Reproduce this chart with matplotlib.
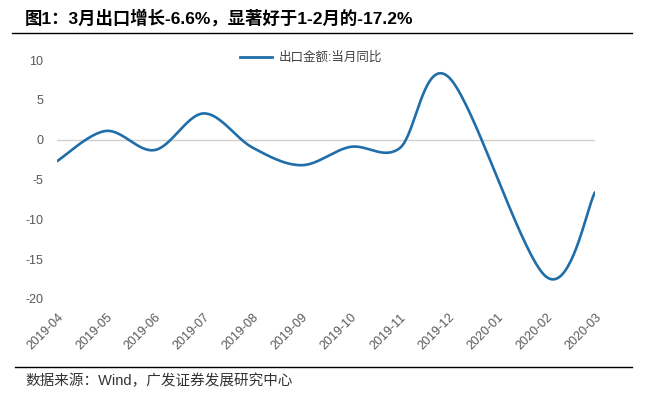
import numpy as np
import matplotlib
matplotlib.use('Agg')
import matplotlib.pyplot as plt
from matplotlib.lines import Line2D

plt.rcParams['axes.unicode_minus'] = False

# data (Jan 2020 missing in source, line joins Dec to Feb)
months = ['2019-04', '2019-05', '2019-06', '2019-07', '2019-08', '2019-09',
          '2019-10', '2019-11', '2019-12', '2020-01', '2020-02', '2020-03']
export_yoy = [-2.7, 1.1, -1.3, 3.3, -1.0, -3.2, -0.9, -1.1, 7.9, np.nan, -17.2, -6.6]

title = '图1：3月出口增长-6.6%，显著好于1-2月的-17.2%'
series_name = '出口金额:当月同比'
source = '数据来源：Wind，广发证券发展研究中心'

cjk = ['Liberation Sans', 'Noto Sans CJK SC']
line_color = '#1f6ea9'
text_gray = '#595959'


def smooth(xs, ys, n=40):
    # Excel-like smoothing: cubic Bezier with Catmull-Rom control points
    pts = np.column_stack([xs, ys])
    out = []
    for i in range(len(pts) - 1):
        p0 = pts[i - 1] if i > 0 else pts[i]
        p1, p2 = pts[i], pts[i + 1]
        p3 = pts[i + 2] if i + 2 < len(pts) else pts[i + 1]
        c1 = p1 + (p2 - p0) / 6
        c2 = p2 - (p3 - p1) / 6
        t = np.linspace(0, 1, n)[:, None]
        seg = ((1 - t) ** 3) * p1 + 3 * ((1 - t) ** 2) * t * c1 + 3 * (1 - t) * t ** 2 * c2 + t ** 3 * p2
        out.append(seg if i == 0 else seg[1:])
    return np.vstack(out)


fig = plt.figure(figsize=(6.61, 3.93), dpi=100)
ax = fig.add_axes([0.0862, 0.2392, 0.814, 0.608])

x = np.arange(len(months))
y = np.array(export_yoy, dtype=float)
ok = ~np.isnan(y)
curve = smooth(x[ok], y[ok])
ax.plot(curve[:, 0], curve[:, 1], color=line_color, lw=1.9, solid_capstyle='round', zorder=3)

ax.set_xlim(0, len(months) - 1)
ax.set_ylim(-20, 10)
ax.set_yticks(np.arange(-20, 11, 5))
ax.set_xticks(x)
ax.set_xticklabels(months, rotation=45, ha='right', rotation_mode='anchor',
                   fontsize=9, color=text_gray, family='Liberation Sans')
for lab in ax.get_yticklabels():
    lab.set_fontsize(9)
    lab.set_color(text_gray)
    lab.set_family('Liberation Sans')
ax.tick_params(axis='both', length=0)
ax.tick_params(axis='x', pad=9)
ax.tick_params(axis='y', pad=10)
for s in ax.spines.values():
    s.set_visible(False)
ax.axhline(0, color='#d0d0d0', lw=1, zorder=1)

handle = Line2D([], [], color=line_color, lw=2)
leg = fig.legend([handle], [series_name], loc='center', bbox_to_anchor=(311 / 661, 1 - 58 / 393),
                 frameon=False, handlelength=2.6, handletextpad=0.5,
                 prop={'family': cjk, 'size': 9})
for t in leg.get_texts():
    t.set_color('#404040')

# title and frame lines
fig.text(25 / 661, 1 - 18 / 393, title, fontsize=12.5, fontweight='bold', family=cjk,
         va='center', ha='left', color='black')
fig.add_artist(Line2D([12 / 661, 632 / 661], [1 - 33 / 393] * 2, color='black', lw=1))
fig.add_artist(Line2D([15 / 661, 632 / 661], [1 - 367 / 393] * 2, color='black', lw=1))
fig.text(25 / 661, 1 - 381 / 393, source, fontsize=10.5, family=cjk,
         va='center', ha='left', color='#333333')

fig.savefig('out.png', dpi=100)
